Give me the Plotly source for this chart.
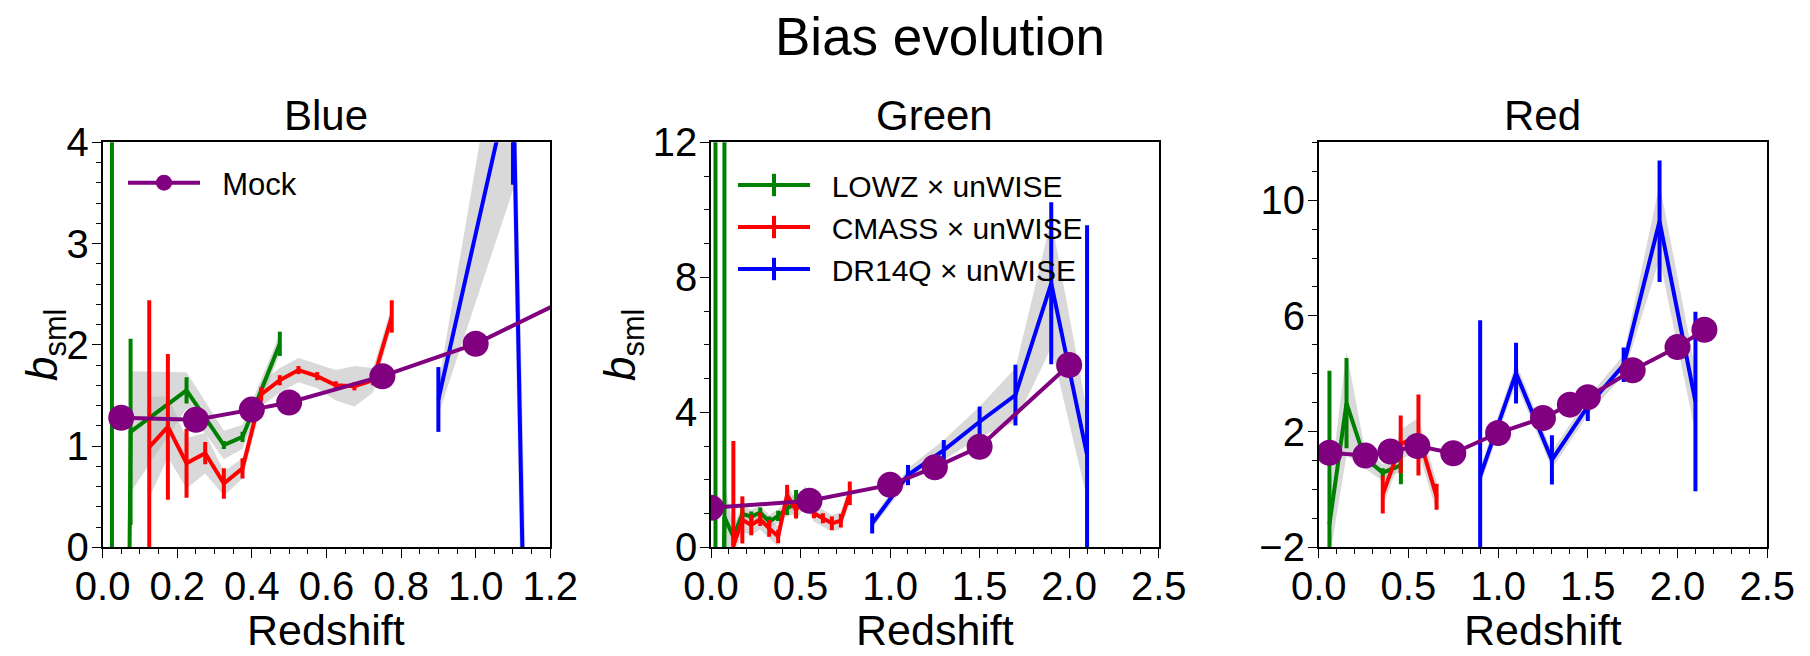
import plotly.graph_objects as go

FONT = "Liberation Sans, Arial, Helvetica, sans-serif"
GREEN = "#008000"
RED = "#ff0000"
BLUE = "#0000ff"
PURPLE = "#800080"
BAND = "rgba(185,185,185,0.55)"
LW = 4.0

# ---------------- Panel 1: Blue ----------------
p1_mock_z = [0.05, 0.25, 0.40, 0.50, 0.75, 1.00, 1.25]
p1_mock_b = [1.28, 1.26, 1.36, 1.43, 1.69, 2.01, 2.46]
p1_lowz_z = [0.025, 0.075, 0.225, 0.325, 0.375, 0.475]
p1_lowz_b = [-20.0, 1.14, 1.55, 1.01, 1.09, 2.01]
p1_lowz_e = [30.0, 0.92, 0.13, 0.04, 0.05, 0.12]
p1_lowz_w = [3.0, 0.6, 0.18, 0.14, 0.12, 0.10]
p1_cmass_z = [0.125, 0.175, 0.225, 0.275, 0.325, 0.375, 0.425, 0.475, 0.525, 0.575, 0.625, 0.675, 0.725, 0.775]
p1_cmass_b = [0.99, 1.19, 0.83, 0.93, 0.63, 0.78, 1.51, 1.65, 1.75, 1.69, 1.60, 1.59, 1.65, 2.28]
p1_cmass_e = [1.45, 0.72, 0.34, 0.11, 0.15, 0.10, 0.07, 0.05, 0.04, 0.04, 0.04, 0.04, 0.05, 0.16]
p1_cmass_w = [0.5, 0.3, 0.25, 0.2, 0.12, 0.1, 0.12, 0.12, 0.12, 0.12, 0.15, 0.2, 0.12, 0.1]
p1_qso_z = [0.9, 1.1, 1.3]
p1_qso_b = [1.46, 4.73, -33.0]
p1_qso_e = [0.32, 1.15, 5.0]
p1_qso_w = [0.15, 1.2, 3.0]

# ---------------- Panel 2: Green ----------------
p2_mock_z = [0.0, 0.55, 1.0, 1.25, 1.5, 2.0]
p2_mock_b = [1.17, 1.38, 1.85, 2.37, 2.98, 5.40]
p2_lowz_z = [0.025, 0.075, 0.125, 0.175, 0.225, 0.275, 0.325, 0.375, 0.425, 0.475]
p2_lowz_b = [-15.0, 0.9, 0.31, 0.99, 0.91, 1.03, 0.76, 0.93, 1.16, 1.30]
p2_lowz_e = [30.0, 15.0, 0.25, 0.2, 0.15, 0.15, 0.15, 0.15, 0.2, 0.4]
p2_lowz_w = [2.0, 1.0, 0.3, 0.25, 0.2, 0.2, 0.2, 0.2, 0.25, 0.3]
p2_cmass_z = [0.125, 0.175, 0.225, 0.275, 0.325, 0.375, 0.425, 0.475, 0.525, 0.575, 0.625, 0.675, 0.725, 0.775]
p2_cmass_b = [0.05, 0.81, 0.66, 0.83, 0.56, 0.32, 1.55, 1.10, 1.52, 1.01, 0.86, 0.71, 0.79, 1.60]
p2_cmass_e = [3.1, 0.7, 0.3, 0.2, 0.25, 0.2, 0.3, 0.25, 0.2, 0.15, 0.15, 0.2, 0.2, 0.35]
p2_cmass_w = [0.4, 0.35, 0.3, 0.3, 0.3, 0.3, 0.3, 0.3, 0.3, 0.25, 0.25, 0.25, 0.25, 0.3]
p2_qso_z = [0.9, 1.1, 1.3, 1.5, 1.7, 1.9, 2.1]
p2_qso_b = [0.71, 2.14, 2.88, 3.72, 4.51, 7.82, 2.74]
p2_qso_e = [0.3, 0.3, 0.3, 0.45, 0.9, 2.4, 6.8]
p2_qso_w = [0.15, 0.2, 0.3, 0.45, 0.8, 1.9, 1.3]

# ---------------- Panel 3: Red ----------------
p3_mock_z = [0.06, 0.26, 0.40, 0.55, 0.75, 1.0, 1.25, 1.4, 1.5, 1.75, 2.0, 2.15]
p3_mock_b = [1.27, 1.17, 1.31, 1.50, 1.25, 1.95, 2.47, 2.93, 3.19, 4.12, 4.92, 5.52]
p3_lowz_z = [0.06, 0.155, 0.255, 0.357, 0.458]
p3_lowz_b = [-1.2, 2.98, 1.10, 0.58, 0.83]
p3_lowz_e = [5.3, 1.56, 0.2, 0.15, 0.65]
p3_lowz_w = [1.2, 1.8, 0.35, 0.3, 0.2]
p3_cmass_z = [0.357, 0.457, 0.556, 0.657]
p3_cmass_b = [-0.18, 1.56, 1.88, -0.25]
p3_cmass_e = [0.65, 1.0, 1.4, 0.45]
p3_cmass_w = [0.4, 0.5, 0.6, 0.5]
p3_qso_z = [0.9, 1.1, 1.3, 1.5, 1.7, 1.9, 2.1]
p3_qso_b = [0.45, 4.02, 1.02, 2.87, 4.31, 9.27, 3.04]
p3_qso_e = [5.4, 1.05, 0.85, 0.5, 0.6, 2.1, 3.1]
p3_qso_w = [0.3, 0.35, 0.3, 0.3, 0.35, 1.3, 1.1]

panel_titles = ["Blue", "Green", "Red"]
legend_names = ["LOWZ × unWISE", "CMASS × unWISE", "DR14Q × unWISE"]
NB = "\u00a0\u00a0"

panels = [
    dict(mock=(p1_mock_z, p1_mock_b),
         series=[(p1_lowz_z, p1_lowz_b, p1_lowz_e, p1_lowz_w, GREEN),
                 (p1_cmass_z, p1_cmass_b, p1_cmass_e, p1_cmass_w, RED),
                 (p1_qso_z, p1_qso_b, p1_qso_e, p1_qso_w, BLUE)]),
    dict(mock=(p2_mock_z, p2_mock_b),
         series=[(p2_lowz_z, p2_lowz_b, p2_lowz_e, p2_lowz_w, GREEN),
                 (p2_cmass_z, p2_cmass_b, p2_cmass_e, p2_cmass_w, RED),
                 (p2_qso_z, p2_qso_b, p2_qso_e, p2_qso_w, BLUE)]),
    dict(mock=(p3_mock_z, p3_mock_b),
         series=[(p3_lowz_z, p3_lowz_b, p3_lowz_e, p3_lowz_w, GREEN),
                 (p3_cmass_z, p3_cmass_b, p3_cmass_e, p3_cmass_w, RED),
                 (p3_qso_z, p3_qso_b, p3_qso_e, p3_qso_w, BLUE)]),
]

fig = go.Figure()
axsuf = ["", "2", "3"]
for i, p in enumerate(panels):
    xa = "x" + axsuf[i]
    ya = "y" + axsuf[i]
    for (z, b, e, w, c) in p["series"]:
        hi = [bb + ww for bb, ww in zip(b, w)]
        lo = [bb - ww for bb, ww in zip(b, w)]
        fig.add_trace(go.Scatter(x=z + z[::-1], y=hi + lo[::-1], fill="toself",
                                 fillcolor=BAND, line=dict(width=0), mode="lines",
                                 hoverinfo="skip", showlegend=False, xaxis=xa, yaxis=ya))
    for (z, b, e, w, c) in p["series"]:
        fig.add_trace(go.Scatter(x=z, y=b, mode="lines", line=dict(color=c, width=LW),
                                 error_y=dict(type="data", array=e, visible=True,
                                              color=c, thickness=LW, width=0),
                                 showlegend=False, xaxis=xa, yaxis=ya))
    mz, mb = p["mock"]
    fig.add_trace(go.Scatter(x=mz, y=mb, mode="lines+markers", name=NB + "Mock",
                             line=dict(color=PURPLE, width=LW),
                             marker=dict(color=PURPLE, size=26),
                             showlegend=(i == 0), legend="legend",
                             xaxis=xa, yaxis=ya))

for name, c in zip(legend_names, [GREEN, RED, BLUE]):
    fig.add_trace(go.Scatter(x=[None], y=[None], mode="lines+markers", name=NB + name,
                             line=dict(color=c, width=LW),
                             marker=dict(symbol="line-ns", size=30, color=c,
                                         line=dict(color=c, width=LW)),
                             legend="legend2", xaxis="x2", yaxis="y2"))

W, H = 1810, 656
xdom = [(102.6 / W, 550.3 / W), (711.0 / W, 1158.7 / W), (1318.7 / W, 1767.2 / W)]
ydom = (1 - 547.3 / H, 1 - 142.3 / H)

common = dict(showline=True, linecolor="black", linewidth=1.5, mirror=True,
              ticks="outside", ticklen=9, tickwidth=1.4, tickcolor="black",
              showgrid=False, zeroline=False, automargin=False,
              tickfont=dict(size=40, color="black", family=FONT))
mnr = dict(ticks="outside", ticklen=5, tickwidth=1.2, tickcolor="black")

xcfg = [dict(range=[0, 1.2], dtick=0.2, tick0=0, tickformat=".1f", minor=dict(dtick=0.05, **mnr)),
        dict(range=[0, 2.5], dtick=0.5, tick0=0, tickformat=".1f", minor=dict(dtick=0.1, **mnr)),
        dict(range=[0, 2.5], dtick=0.5, tick0=0, tickformat=".1f", minor=dict(dtick=0.1, **mnr))]
ycfg = [dict(range=[0, 4], dtick=1, tick0=0, minor=dict(dtick=0.2, **mnr)),
        dict(range=[0, 12], dtick=4, tick0=0, minor=dict(dtick=1, **mnr)),
        dict(range=[-2, 12], dtick=4, tick0=-2, minor=dict(dtick=1, **mnr))]

layout = dict(width=W, height=H, margin=dict(l=0, r=0, t=0, b=0, autoexpand=False),
              paper_bgcolor="white", plot_bgcolor="white",
              font=dict(family=FONT, color="black"))
for i in range(3):
    layout["xaxis" + axsuf[i]] = dict(domain=list(xdom[i]), anchor="y" + axsuf[i],
                                      ticklabelstandoff=-6, **common, **xcfg[i])
    layout["yaxis" + axsuf[i]] = dict(domain=list(ydom), anchor="x" + axsuf[i],
                                      ticklabelstandoff=-5, **common, **ycfg[i])

layout["legend"] = dict(x=123 / W, y=1 - 156 / H, xanchor="left", yanchor="top",
                        bgcolor="rgba(0,0,0,0)", font=dict(size=31, family=FONT),
                        itemwidth=72)
layout["legend2"] = dict(x=733 / W, y=1 - 159 / H, xanchor="left", yanchor="top",
                         bgcolor="rgba(0,0,0,0)", font=dict(size=30, family=FONT),
                         itemwidth=72)

ann = [dict(text="Bias evolution", x=940 / W, y=1 - 36 / H, font=dict(size=53),
            yanchor="middle")]
for i, t in enumerate(panel_titles):
    cx = (xdom[i][0] + xdom[i][1]) / 2
    ann.append(dict(text=t, x=cx, y=1 - 115 / H, font=dict(size=42), yanchor="middle"))
    ann.append(dict(text="Redshift", x=cx, y=0.0, font=dict(size=43), yanchor="bottom"))
ann.append(dict(text="<i>b</i><sub>sml</sub>", x=45 / W, y=1 - 345 / H,
                textangle=-90, font=dict(size=44), yanchor="middle"))
ann.append(dict(text="<i>b</i><sub>sml</sub>", x=623 / W, y=1 - 345 / H,
                textangle=-90, font=dict(size=44), yanchor="middle"))
for a in ann:
    a.update(xref="paper", yref="paper", showarrow=False, xanchor="center")
    a["font"].update(family=FONT, color="black")
layout["annotations"] = ann

fig.update_layout(**layout)
fig.write_html("out.html")
